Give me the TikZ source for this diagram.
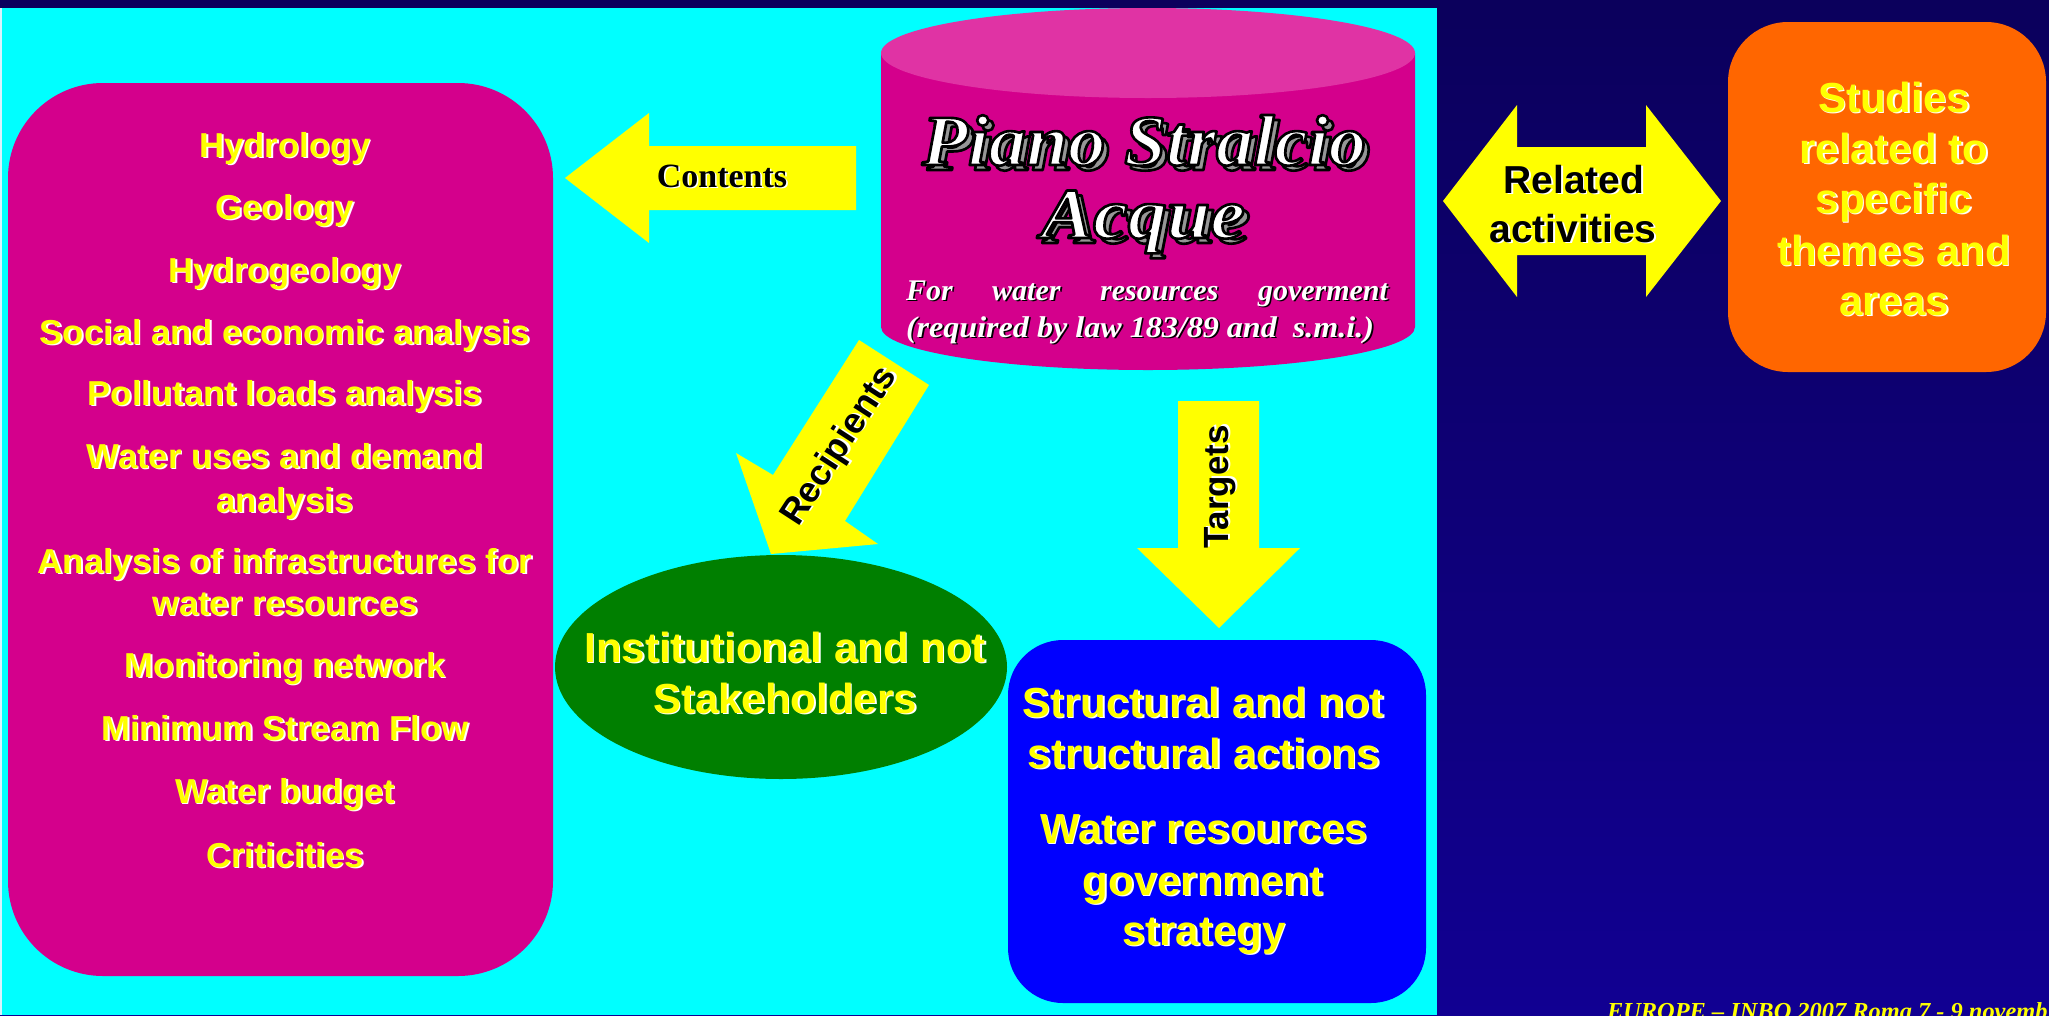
\documentclass[tikz,border=0pt]{standalone}
\usepackage{fontspec}
\usepackage{graphicx}
\usetikzlibrary{shapes.geometric}
\setmainfont{Liberation Sans}
\newfontfamily\tnr{Liberation Serif}
\definecolor{navytop}{RGB}{11,0,92}
\definecolor{navybot}{RGB}{17,0,146}
\definecolor{cyanbg}{RGB}{0,255,255}
\definecolor{mag}{RGB}{212,0,140}
\definecolor{magtop}{RGB}{224,51,164}
\definecolor{yel}{RGB}{255,255,0}
\definecolor{grn}{RGB}{0,127,0}
\definecolor{blu}{RGB}{0,0,255}
\definecolor{org}{RGB}{255,102,0}
\definecolor{wagray}{RGB}{150,150,150}
% text with a small drop shadow
\newcommand\sh[2][white]{\rlap{\kern1.6pt\raisebox{-1.6pt}{\color{#1}#2}}#2}
% offset copy
\newcommand\ofs[3]{\rlap{\kern#1pt\raisebox{#2pt}{#3}}}
% outlined text (fill, then black stroke)
\newcommand\outl[2]{\special{pdf:literal direct 1 j #1 w 2 Tr 0 G}#2\special{pdf:literal direct 0 Tr}}
% word-art style text: white, black outline, grey shadow
\newcommand\waText[1]{%
\ofs{5}{-5}{\color{wagray}\outl{2.6}{#1}}%
{\color{white}\outl{2.6}{#1}}}
\tikzset{
  every node/.style={inner sep=0pt, outer sep=0pt},
  ytxt/.style={anchor=base, text=yel, font=\bfseries\fontsize{#1}{#1}\selectfont},
  ktxt/.style={anchor=base, text=black, font=\bfseries\fontsize{#1}{#1}\selectfont},
  boxshape/.style={rectangle, draw=none},
  blockarrow/.style={fill=yel},
}
\begin{document}
\begin{tikzpicture}[x=1pt,y=-1pt]
\useasboundingbox (0,0) rectangle (2049,1015);
\clip (0,0) rectangle (2049,1015);
% backgrounds
\shade[top color=navytop, bottom color=navybot] (0,0) rectangle (2049,1015);
\fill[white!85!cyan] (0,8) rectangle (2,1015);
\fill[cyanbg] (2,8) rectangle (1437,1015);

% ---- left box: contents ----
\node[boxshape, fill=mag, rounded corners=95pt, minimum width=545pt, minimum height=893pt] (contents) at (280.5,529.5) {};
\node[ytxt=34.6] (c1) at (285,157) {\sh{Hydrology}};
\node[ytxt=34.6] (c2) at (285,219) {\sh{Geology}};
\node[ytxt=34.6] (c3) at (285,282) {\sh{Hydrogeology}};
\node[ytxt=34.6] (c4) at (285,344) {\sh{Social and economic analysis}};
\node[ytxt=34.6] (c5) at (285,405) {\sh{Pollutant loads analysis}};
\node[ytxt=34.6] (c6a) at (285,468) {\sh{Water uses and demand}};
\node[ytxt=34.6] (c6b) at (285,512) {\sh{analysis}};
\node[ytxt=34.6] (c7a) at (285,573) {\sh{Analysis of infrastructures for}};
\node[ytxt=34.6] (c7b) at (285,615) {\sh{water resources}};
\node[ytxt=34.6] (c8) at (285,677) {\sh{Monitoring network}};
\node[ytxt=34.6] (c9) at (285,740) {\sh{Minimum Stream Flow}};
\node[ytxt=34.6] (c10) at (285,803) {\sh{Water budget}};
\node[ytxt=34.6] (c11) at (285,867) {\sh{Criticities}};

% ---- cylinder: Piano Stralcio Acque ----
\fill[mag] (881,53) -- (881,327) arc[start angle=180, end angle=360, x radius=267pt, y radius=43pt] -- (1415,53) -- cycle;
\fill[magtop] (1148,53) ellipse [x radius=267pt, y radius=45pt];
\coordinate (plan) at (1148,190);
\node[anchor=base, font=\tnr\bfseries\itshape\fontsize{72}{72}\selectfont] (psa1) at (1144,165) {\resizebox{444pt}{\height}{\waText{Piano Stralcio}}};
\node[anchor=base, font=\tnr\bfseries\itshape\fontsize{72}{72}\selectfont] (psa2) at (1143,238) {\resizebox{204pt}{\height}{\waText{Acque}}};
\node[anchor=base west, text=white, font=\tnr\bfseries\itshape\fontsize{30}{30}\selectfont] (psa3) at (906,300) {\sh[black]{\hbox to 482pt{For\hfill water\hfill resources\hfill goverment}}};
\node[anchor=base west, text=white, font=\tnr\bfseries\itshape\fontsize{30}{30}\selectfont] (psa4) at (906,337) {\resizebox{468pt}{\height}{\sh[black]{(required by law 183/89 and\ \ s.m.i.)}}};

% ---- Contents arrow ----
\fill[blockarrow] (565,178) -- (649,113) -- (649,146) -- (856,146) -- (856,210) -- (649,210) -- (649,243) -- cycle;
\node[ktxt=34, font=\tnr\bfseries\fontsize{34}{34}\selectfont] (contentslbl) at (722,187) {\sh{Contents}};

% ---- Related activities double arrow ----
\fill[blockarrow] (1443,201) -- (1517,105) -- (1517,147) -- (1646,147) -- (1646,105) -- (1721,201) -- (1646,297) -- (1646,255) -- (1517,255) -- (1517,297) -- cycle;
\node[ktxt=39] (rel1) at (1574,193) {\sh{Related}};
\node[ktxt=39] (rel2) at (1573,242) {\sh{activities}};

% ---- Studies box ----
\node[boxshape, fill=org, rounded corners=60pt, minimum width=318pt, minimum height=350pt] (studies) at (1887,197) {};
\node[ytxt=42] (s1) at (1894,112) {\sh{Studies}};
\node[ytxt=42] (s2) at (1894,163) {\sh{related to}};
\node[ytxt=42] (s3) at (1894,213) {\sh{specific}};
\node[ytxt=42] (s4) at (1894,265) {\sh{themes and}};
\node[ytxt=42] (s5) at (1894,315) {\sh{areas}};

% ---- Recipients arrow ----
\fill[blockarrow] (859,340) -- (929,385) -- (845,521) -- (878,544) -- (771,554) -- (736,453) -- (773,475) -- cycle;
\node[text=black, font=\bfseries\fontsize{36}{36}\selectfont, rotate=57] (recip) at (841,447) {\sh{Recipients}};

% ---- Targets arrow ----
\fill[blockarrow] (1178,401) -- (1259,401) -- (1259,548) -- (1300,548) -- (1219,628) -- (1137,548) -- (1178,548) -- cycle;
\node[text=black, font=\bfseries\fontsize{35}{35}\selectfont, rotate=90] (targ) at (1221,487) {\sh{Targets}};

% ---- Stakeholders ellipse ----
\node[ellipse, fill=grn, minimum width=452pt, minimum height=224pt] (stake) at (781,667) {};
\node[ytxt=42] (k1) at (785,662) {\sh{Institutional and not}};
\node[ytxt=42] (k2) at (785,713) {\sh{Stakeholders}};

% ---- Actions box ----
\node[boxshape, fill=blu, rounded corners=55pt, minimum width=418pt, minimum height=363pt] (actions) at (1217,821.5) {};
\node[ytxt=42] (a1) at (1203,717) {\sh{Structural and not}};
\node[ytxt=42] (a2) at (1204,768) {\sh{structural actions}};
\node[ytxt=42] (a3) at (1204,843) {\sh{Water resources}};
\node[ytxt=42] (a4) at (1203,895) {\sh{government}};
\node[ytxt=42] (a5) at (1204,945) {\sh{strategy}};

% ---- footer ----
\node[anchor=base west, text=yel, font=\tnr\bfseries\itshape\fontsize{24.4}{24.4}\selectfont] (footer) at (1607,1019) {EUROPE – INBO 2007 Roma 7 - 9 novemb};
\end{tikzpicture}
\end{document}
